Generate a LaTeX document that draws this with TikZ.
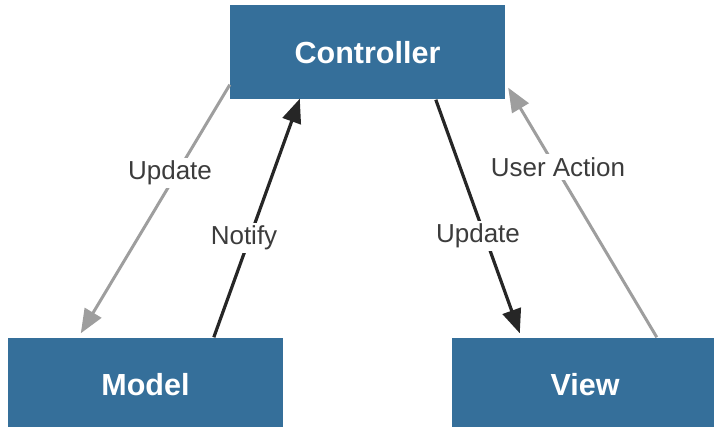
\documentclass[tikz,border=0pt]{standalone}
\usepackage{fontspec}
\setmainfont{Liberation Sans}
\usetikzlibrary{arrows.meta,calc}
\definecolor{boxblue}{RGB}{53,111,154}
\definecolor{graya}{RGB}{158,158,158}
\definecolor{darka}{RGB}{38,38,38}
\definecolor{lbltext}{RGB}{60,60,60}
\begin{document}
\begin{tikzpicture}[x=1pt,y=-1pt,
  mvcbox/.style={fill=boxblue, draw=none, minimum width=275pt, minimum height=94pt,
    inner sep=0pt, text=white, font=\fontsize{30.5}{32}\selectfont\bfseries},
  lbl/.style={fill=white, inner sep=3pt, text=lbltext, font=\fontsize{26}{28}\selectfont},
  tipa/.style={-{Triangle[length=24pt,width=19pt]}},
  garrow/.style={tipa, draw=graya, line width=3pt},
  karrow/.style={tipa, draw=darka, line width=3.2pt}]
\useasboundingbox (0,0) rectangle (714,427);
\clip (0,0) rectangle (714,427);
\node[mvcbox] (ctrl) at (367.5,52.5) {Controller};
\node[mvcbox] (model) at (145.5,384.5) {Model};
\node[mvcbox, minimum width=266pt] (view) at (585,384.5) {View};
\coordinate (a1s) at ($(ctrl.south west)+(0,-15)$);
\coordinate (a1e) at ($(model.north west)+(73,-4)$);
\coordinate (a2s) at ($(model.north west)+(206,0)$);
\coordinate (a2e) at ($(ctrl.south west)+(70,-1)$);
\coordinate (a3s) at ($(ctrl.south west)+(206,0)$);
\coordinate (a3e) at ($(view.north west)+(68,-4)$);
\coordinate (a4s) at ($(view.north west)+(205,0)$);
\coordinate (a4e) at ($(ctrl.south east)+(3,-12)$);
\draw[garrow] (a1s) -- (a1e);
\draw[karrow] (a2s) -- (a2e);
\draw[karrow] (a3s) -- (a3e);
\draw[garrow] (a4s) -- (a4e);
\node[lbl] (l1) at (170,173) {Update};
\node[lbl] (l2) at (244,238) {Notify};
\node[lbl] (l3) at (478,236) {Update};
\node[lbl] (l4) at (558,167) {User Action};
\end{tikzpicture}
\end{document}
